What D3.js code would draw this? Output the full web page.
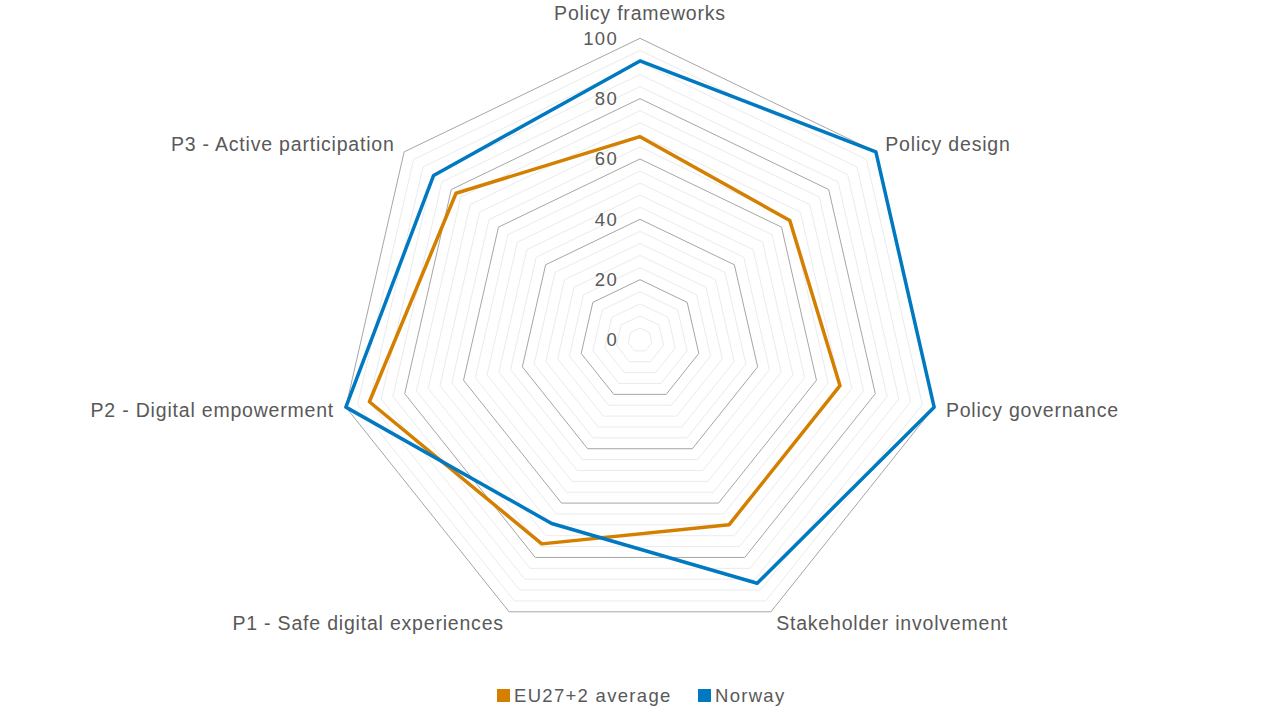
<!DOCTYPE html>
<html>
<head>
<meta charset="utf-8">
<script src="https://cdn.jsdelivr.net/npm/d3@7"></script>
<style>
  body { margin: 0; background: #fff; }
  svg text { font-family: "Liberation Sans", Arial, sans-serif; fill: #595959; letter-spacing: 1.3px; }
  svg text.axis-label { letter-spacing: 0.8px; }
</style>
</head>
<body>
<div id="chart"></div>
<script>
// Radar chart: EU27+2 average vs Norway
const axes = [
  'Policy frameworks',
  'Policy design',
  'Policy governance',
  'Stakeholder involvement',
  'P1 - Safe digital experiences',
  'P2 - Digital empowerment',
  'P3 - Active participation'
];
const euValues = [67.4, 63.5, 68, 68, 75, 92, 78];
const norwayValues = [92.5, 100, 100, 89.5, 67.5, 100, 87.5];
const seriesNames = ['EU27+2 average', 'Norway'];
const seriesColors = ['#D47F00', '#0079C1'];
const majorTicks = [0, 20, 40, 60, 80, 100];

const width = 1280, height = 720;
const cx = 640, cy = 340, R = 301.7;

const svg = d3.select('#chart').append('svg')
  .attr('width', width).attr('height', height);

const r = d3.scaleLinear().domain([0, 100]).range([0, R]);
const angle = d3.scaleLinear().domain([0, axes.length]).range([0, 2 * Math.PI]);

const pt = (i, v) => [cx + r(v) * Math.sin(angle(i)), cy - r(v) * Math.cos(angle(i))];

// grid rings: minor every 4, major every 20
const rings = d3.range(4, 101, 4);
const g = svg.append('g');
g.selectAll('polygon.minor').data(rings.filter(v => v % 20 !== 0)).enter()
  .append('polygon')
  .attr('points', v => axes.map((a, i) => pt(i, v).join(',')).join(' '))
  .attr('fill', 'none').attr('stroke', '#ebebeb').attr('stroke-width', 1);
g.selectAll('polygon.major').data(majorTicks.filter(v => v > 0)).enter()
  .append('polygon')
  .attr('points', v => axes.map((a, i) => pt(i, v).join(',')).join(' '))
  .attr('fill', 'none').attr('stroke', '#a6a6a6').attr('stroke-width', 1);

// tick labels
svg.selectAll('text.tick').data(majorTicks).enter()
  .append('text')
  .attr('x', cx - 22)
  .attr('y', d => cy - r(d))
  .attr('dy', '0.35em')
  .attr('text-anchor', 'end')
  .attr('font-size', 18.5)
  .text(d => d);

// axis labels
axes.forEach((name, i) => {
  const [x, y] = pt(i, 104);
  const s = Math.sin(angle(i));
  const t = svg.append('text')
    .attr('class', 'axis-label')
    .attr('font-size', 19.5)
    .attr('text-anchor', Math.abs(s) < 0.01 ? 'middle' : (s > 0 ? 'start' : 'end'))
    .text(name);
  if (Math.abs(s) < 0.01) t.attr('x', x).attr('y', y - 6);
  else t.attr('x', x).attr('y', y).attr('dy', '0.35em');
});

// series
const line = d3.line().curve(d3.curveLinearClosed);
[euValues, norwayValues].forEach((vals, k) => {
  svg.append('path')
    .attr('d', line(vals.map((v, i) => pt(i, v))))
    .attr('fill', 'none')
    .attr('stroke', seriesColors[k])
    .attr('stroke-width', 3.5)
    .attr('stroke-linejoin', 'round');
});

// legend
const legend = svg.append('g');
const legX = [497, 698];
seriesNames.forEach((n, k) => {
  legend.append('rect').attr('x', legX[k]).attr('y', 689).attr('width', 13).attr('height', 13)
    .attr('fill', seriesColors[k]);
  legend.append('text').attr('x', legX[k] + 17).attr('y', 695.5).attr('dy', '0.35em')
    .attr('font-size', 18.5).text(n);
});
</script>
</body>
</html>
